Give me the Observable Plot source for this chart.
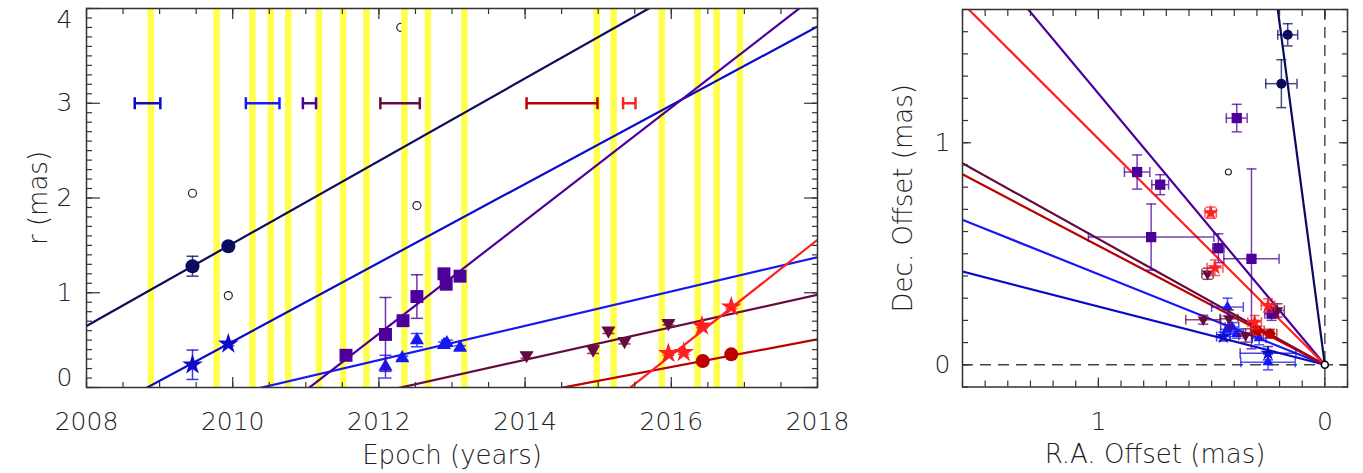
<!DOCTYPE html>
<html><head><meta charset="utf-8">
<script src="https://cdn.jsdelivr.net/npm/d3@7"></script>
<script src="https://cdn.jsdelivr.net/npm/@observablehq/plot@0.6"></script>
<style>
html,body{margin:0;padding:0;background:#fff;}
#wrap{position:relative;width:1363px;height:473px;overflow:hidden;}
#left{position:absolute;left:0;top:0;}
#right{position:absolute;left:870px;top:0;}
</style></head>
<body><div id="wrap"><div id="left"></div><div id="right"></div></div>
<script>
// ---------------- data ----------------
const series = ["J1", "J2", "J3", "J4", "J5", "J6", "J7"];
const seriesColor = ["#0b0b5e", "#0a0ac8", "#1818f5", "#4c0099", "#660a40", "#bb0000", "#ff2020"];

// left panel: epoch (years) vs r (mas)
const epochJ1 = [2009.45, 2009.94];
const rJ1 = [1.28, 1.49];
const rErrJ1 = [0.105, 0.02];
const epochJ2 = [2009.45, 2009.94];
const rJ2 = [0.24, 0.46];
const rErrJ2 = [0.155, 0.02];
const epochJ3 = [2012.09, 2012.32, 2012.52, 2012.89, 2012.93, 2013.11];
const rJ3 = [0.22, 0.31, 0.50, 0.45, 0.47, 0.42];
const rErrJ3 = [0.12, 0.02, 0.07, 0.03, 0.03, 0.02];
const epochJ4 = [2011.55, 2012.09, 2012.33, 2012.52, 2012.89, 2012.92, 2013.11];
const rJ4 = [0.34, 0.56, 0.705, 0.96, 1.20, 1.09, 1.175];
const rErrJ4 = [0.02, 0.39, 0.02, 0.23, 0.02, 0.02, 0.02];
const epochJ5 = [2014.02, 2014.93, 2015.14, 2015.36, 2015.96];
const rJ5 = [0.34, 0.40, 0.60, 0.49, 0.68];
const rErrJ5 = [0.03, 0.04, 0.03, 0.03, 0.02];
const epochJ6 = [2016.43, 2016.82];
const rJ6 = [0.28, 0.35];
const rErrJ6 = [0.01, 0.01];
const epochJ7 = [2015.96, 2016.17, 2016.42, 2016.82];
const rJ7 = [0.36, 0.37, 0.65, 0.85];
const rErrJ7 = [0.02, 0.02, 0.02, 0.02];

// right panel: R.A. / Dec. offsets (mas)
const raJ1 = [0.192, 0.164], decJ1 = [1.266, 1.486];
const raErrJ1 = [0.069, 0.044], decErrJ1 = [0.108, 0.05];
const raJ2 = [0.251, 0.448], decJ2 = [0.052, 0.127];
const raErrJ2 = [0.123, 0.03], decErrJ2 = [0.03, 0.02];
const raJ3 = [0.251, 0.29, 0.43, 0.41, 0.43, 0.39], decJ3 = [0.012, 0.12, 0.26, 0.17, 0.16, 0.14];
const raErrJ3 = [0.12, 0.03, 0.07, 0.03, 0.03, 0.03], decErrJ3 = [0.035, 0.03, 0.04, 0.02, 0.02, 0.02];
const raJ4 = [0.235, 0.324, 0.470, 0.767, 0.829, 0.727, 0.389], decJ4 = [0.23, 0.477, 0.525, 0.575, 0.868, 0.811, 1.111];
const raErrJ4 = [0.03, 0.122, 0.025, 0.277, 0.056, 0.037, 0.046], decErrJ4 = [0.03, 0.405, 0.065, 0.149, 0.077, 0.045, 0.062];
const raJ5 = [0.209, 0.35, 0.537, 0.423, 0.518], decJ5 = [0.245, 0.132, 0.203, 0.207, 0.41];
const raErrJ5 = [0.03, 0.03, 0.077, 0.04, 0.025], decErrJ5 = [0.03, 0.03, 0.02, 0.04, 0.025];
const raJ6 = [0.242, 0.298], decJ6 = [0.14, 0.154];
const raErrJ6 = [0.03, 0.03], decErrJ6 = [0.02, 0.02];
const raJ7 = [0.251, 0.31, 0.485, 0.504], decJ7 = [0.267, 0.192, 0.437, 0.685];
const raErrJ7 = [0.03, 0.03, 0.035, 0.025], decErrJ7 = [0.03, 0.03, 0.035, 0.025];

// linear fits: r = mu * (t - t0); position angle (deg)
const fitMu = [0.4356, 0.4155, 0.181, 0.597, 0.1717, 0.146, 0.609];
const fitT0 = [2006.51, 2008.83, 2010.40, 2011.05, 2012.30, 2014.52, 2015.44];
const fitPA = [7.4, 75.3, 67.8, 39.3, 60.45, 61.8, 44.5];
// ejection epoch ranges
const ejLo = [null, 2008.66, 2010.18, 2010.96, 2012.02, 2014.02, 2015.34];
const ejHi = [null, 2009.01, 2010.64, 2011.14, 2012.56, 2014.99, 2015.51];

// observing epochs (yellow bands)
const bandEpochs = [2008.88, 2009.78, 2010.27, 2010.52, 2010.76, 2011.18, 2011.51, 2011.83,
  2012.35, 2012.67, 2013.17, 2014.98, 2015.21, 2015.87, 2016.36, 2016.62, 2016.94];

// unlabelled open circles
const openEpoch = [2009.45, 2009.94, 2012.30, 2012.52];
const openR = [2.05, 0.97, 3.80, 1.92];
const openRA = [0.426], openDec = [0.868];
const coreRA = [0], coreDec = [0];

// ticks
const yearTicks = [2008, 2010, 2012, 2014, 2016, 2018];
const yearMinor = d3.range(2008, 2018.001, 0.5);
const rTicks = [0, 1, 2, 3, 4];
const rMinor = d3.range(0, 4.001, 0.1);
const raTicks = [1, 0];
const offMinor = d3.range(-0.1, 1.6001, 0.1);
const decTicks = [0, 1];

// ---------------- assemble ----------------
const epochs = [epochJ1, epochJ2, epochJ3, epochJ4, epochJ5, epochJ6, epochJ7];
const rs = [rJ1, rJ2, rJ3, rJ4, rJ5, rJ6, rJ7];
const rErrs = [rErrJ1, rErrJ2, rErrJ3, rErrJ4, rErrJ5, rErrJ6, rErrJ7];
const ras = [raJ1, raJ2, raJ3, raJ4, raJ5, raJ6, raJ7];
const decs = [decJ1, decJ2, decJ3, decJ4, decJ5, decJ6, decJ7];
const raErrs = [raErrJ1, raErrJ2, raErrJ3, raErrJ4, raErrJ5, raErrJ6, raErrJ7];
const decErrs = [decErrJ1, decErrJ2, decErrJ3, decErrJ4, decErrJ5, decErrJ6, decErrJ7];

const triDown = {draw(ctx, size) {
  const y = Math.sqrt(size / (Math.sqrt(3) * 3));
  ctx.moveTo(0, 2 * y); ctx.lineTo(-Math.sqrt(3) * y, -y); ctx.lineTo(Math.sqrt(3) * y, -y); ctx.closePath();
}};
const capH = {draw(ctx, size) { const h = Math.sqrt(size / Math.PI); ctx.moveTo(-h, 0); ctx.lineTo(h, 0); }};
const capV = {draw(ctx, size) { const h = Math.sqrt(size / Math.PI); ctx.moveTo(0, -h); ctx.lineTo(0, h); }};
const seriesSymbol = ["circle", "star", "triangle", "square", triDown, "circle", "star"];
const leftSize = [7, 6.5, 5.2, 7.3, 5.2, 7, 6.5];
const rightSize = [5, 4.8, 4.1, 5.8, 4.1, 5, 4.8];

const rows = series.map((s, i) => epochs[i].map((t, j) => ({
  t, r: rs[i][j], rErr: rErrs[i][j], ra: ras[i][j], dec: decs[i][j], raErr: raErrs[i][j], decErr: decErrs[i][j]
})));

const FONT = "'DejaVu Sans', sans-serif";
const TXT = "#222";
const AX = "#333";

function boxTicks(xMaj, xMin, yMaj, yMin, xMajLen, xMinLen, yMajLen, yMinLen) {
  const o = {stroke: AX, strokeWidth: 1.2, fill: "none", label: null};
  return [
    Plot.axisX(xMaj, {...o, anchor: "bottom", tickSize: xMajLen, dy: -xMajLen}),
    Plot.axisX(xMin, {...o, anchor: "bottom", tickSize: xMinLen, dy: -xMinLen}),
    Plot.axisX(xMaj, {...o, anchor: "top", tickSize: xMajLen, dy: xMajLen}),
    Plot.axisX(xMin, {...o, anchor: "top", tickSize: xMinLen, dy: xMinLen}),
    Plot.axisY(yMaj, {...o, anchor: "left", tickSize: yMajLen, dx: yMajLen}),
    Plot.axisY(yMin, {...o, anchor: "left", tickSize: yMinLen, dx: yMinLen}),
    Plot.axisY(yMaj, {...o, anchor: "right", tickSize: yMajLen, dx: -yMajLen}),
    Plot.axisY(yMin, {...o, anchor: "right", tickSize: yMinLen, dx: -yMinLen})
  ];
}
const lab = {tickSize: 0, tickFormat: d => String(d), label: null, fontSize: 25, fill: TXT};

// ---------------- left panel ----------------
const leftMarks = [
  Plot.dot(openEpoch.map((t, j) => ({t, r: openR[j]})), {x: "t", y: "r", r: 4, stroke: "#222", strokeWidth: 1.2, fill: "none"}),
  Plot.ruleX(bandEpochs, {stroke: "#ffff4d", strokeWidth: 6.5})
];
series.forEach((s, i) => {
  const c = seriesColor[i];
  leftMarks.push(Plot.link([i], {
    x1: () => 2008, y1: () => fitMu[i] * (2008 - fitT0[i]),
    x2: () => 2018, y2: () => fitMu[i] * (2018 - fitT0[i]),
    stroke: c, strokeWidth: 2.2, clip: true
  }));
  if (ejLo[i] != null) {
    const e = [{lo: ejLo[i], hi: ejHi[i]}];
    leftMarks.push(Plot.ruleY(e, {y: () => 3, x1: "lo", x2: "hi", stroke: c, strokeWidth: 2.5}));
    leftMarks.push(Plot.dot(e, {x: "lo", y: () => 3, symbol: capV, r: 6, stroke: c, strokeWidth: 2.5, fill: "none"}));
    leftMarks.push(Plot.dot(e, {x: "hi", y: () => 3, symbol: capV, r: 6, stroke: c, strokeWidth: 2.5, fill: "none"}));
  }
});
series.forEach((s, i) => {
  const c = seriesColor[i];
  const d = rows[i];
  leftMarks.push(Plot.ruleX(d, {x: "t", y1: v => v.r - v.rErr, y2: v => v.r + v.rErr, stroke: c, strokeWidth: 1.5, strokeOpacity: 0.8}));
  leftMarks.push(Plot.dot(d, {x: "t", y: v => v.r - v.rErr, symbol: capH, r: 6, stroke: c, strokeWidth: 1.5, strokeOpacity: 0.8, fill: "none"}));
  leftMarks.push(Plot.dot(d, {x: "t", y: v => v.r + v.rErr, symbol: capH, r: 6, stroke: c, strokeWidth: 1.5, strokeOpacity: 0.8, fill: "none"}));
  leftMarks.push(Plot.dot(d, {x: "t", y: "r", symbol: seriesSymbol[i], r: leftSize[i], fill: c, stroke: "none"}));
});
leftMarks.push(
  ...boxTicks(yearTicks, yearMinor, rTicks, rMinor, 10, 5, 14, 6),
  Plot.axisX(yearTicks, {...lab, anchor: "bottom", tickPadding: 25}),
  Plot.axisY(rTicks.slice(1, 4), {...lab, anchor: "left", tickPadding: 14}),
  Plot.axisY(rTicks.slice(0, 1), {...lab, anchor: "left", tickPadding: 14, dy: -10}),
  Plot.axisY(rTicks.slice(4), {...lab, anchor: "left", tickPadding: 14, dy: 11}),
  Plot.text(["Epoch (years)"], {frameAnchor: "bottom", dy: 68, fontSize: 26, fill: TXT, lineAnchor: "middle", textAnchor: "middle"}),
  Plot.text(["r (mas)"], {frameAnchor: "left", dx: -48, rotate: -90, fontSize: 26, fill: TXT, lineAnchor: "middle", textAnchor: "middle"}),
  Plot.frame({stroke: AX, strokeWidth: 1.5})
);

const left = Plot.plot({
  width: 870, height: 473,
  marginLeft: 86, marginRight: 53, marginTop: 8, marginBottom: 86,
  x: {domain: [2008, 2018], axis: null},
  y: {domain: [0, 4], axis: null},
  style: {fontFamily: FONT, fontWeight: 200, background: "transparent", color: TXT},
  marks: leftMarks
});
document.getElementById("left").appendChild(left);

// ---------------- right panel ----------------
const rightMarks = [
  Plot.ruleX([0], {stroke: "#444", strokeWidth: 1.4, strokeDasharray: "11,7"}),
  Plot.ruleY([0], {stroke: "#444", strokeWidth: 1.4, strokeDasharray: "11,7"}),
  Plot.dot(openRA.map((a, j) => ({a, d: openDec[j]})), {x: "a", y: "d", r: 3, stroke: "#222", strokeWidth: 1.1, fill: "none"})
];
series.forEach((s, i) => {
  const c = seriesColor[i];
  const pa = fitPA[i] * Math.PI / 180;
  rightMarks.push(Plot.link([i], {
    x1: () => 0, y1: () => 0,
    x2: () => 3 * Math.sin(pa), y2: () => 3 * Math.cos(pa),
    stroke: c, strokeWidth: 2.2, clip: true
  }));
});
series.forEach((s, i) => {
  const c = seriesColor[i];
  const d = rows[i];
  const eo = {stroke: c, strokeWidth: 1.5, strokeOpacity: 0.75};
  rightMarks.push(Plot.ruleY(d, {y: "dec", x1: v => v.ra - v.raErr, x2: v => v.ra + v.raErr, ...eo}));
  rightMarks.push(Plot.ruleX(d, {x: "ra", y1: v => v.dec - v.decErr, y2: v => v.dec + v.decErr, ...eo}));
  rightMarks.push(Plot.dot(d, {x: v => v.ra - v.raErr, y: "dec", symbol: capV, r: 5, fill: "none", ...eo}));
  rightMarks.push(Plot.dot(d, {x: v => v.ra + v.raErr, y: "dec", symbol: capV, r: 5, fill: "none", ...eo}));
  rightMarks.push(Plot.dot(d, {x: "ra", y: v => v.dec - v.decErr, symbol: capH, r: 5, fill: "none", ...eo}));
  rightMarks.push(Plot.dot(d, {x: "ra", y: v => v.dec + v.decErr, symbol: capH, r: 5, fill: "none", ...eo}));
  rightMarks.push(Plot.dot(d, {x: "ra", y: "dec", symbol: seriesSymbol[i], r: rightSize[i], fill: c, stroke: "none"}));
});
rightMarks.push(
  Plot.dot(coreRA.map((a, j) => ({a, d: coreDec[j]})), {x: "a", y: "d", r: 3.5, stroke: "#000", strokeWidth: 1.6, fill: "white"}),
  ...boxTicks(raTicks, offMinor, decTicks, offMinor, 9, 6, 9, 6),
  Plot.axisX(raTicks, {...lab, anchor: "bottom", tickPadding: 25}),
  Plot.axisY(decTicks, {...lab, anchor: "left", tickPadding: 12}),
  Plot.text(["R.A. Offset (mas)"], {frameAnchor: "bottom", dy: 68, fontSize: 26, fill: TXT, lineAnchor: "middle", textAnchor: "middle"}),
  Plot.text(["Dec. Offset (mas)"], {frameAnchor: "left", dx: -59, rotate: -90, fontSize: 26, fill: TXT, lineAnchor: "middle", textAnchor: "middle"}),
  Plot.frame({stroke: AX, strokeWidth: 1.5})
);

const right = Plot.plot({
  width: 493, height: 473,
  marginLeft: 92, marginRight: 16, marginTop: 9, marginBottom: 86.5,
  x: {domain: [1.6, -0.1], axis: null},
  y: {domain: [-0.1, 1.6], axis: null},
  style: {fontFamily: FONT, fontWeight: 200, background: "transparent", color: TXT},
  marks: rightMarks
});
document.getElementById("right").appendChild(right);
</script>
</body></html>
